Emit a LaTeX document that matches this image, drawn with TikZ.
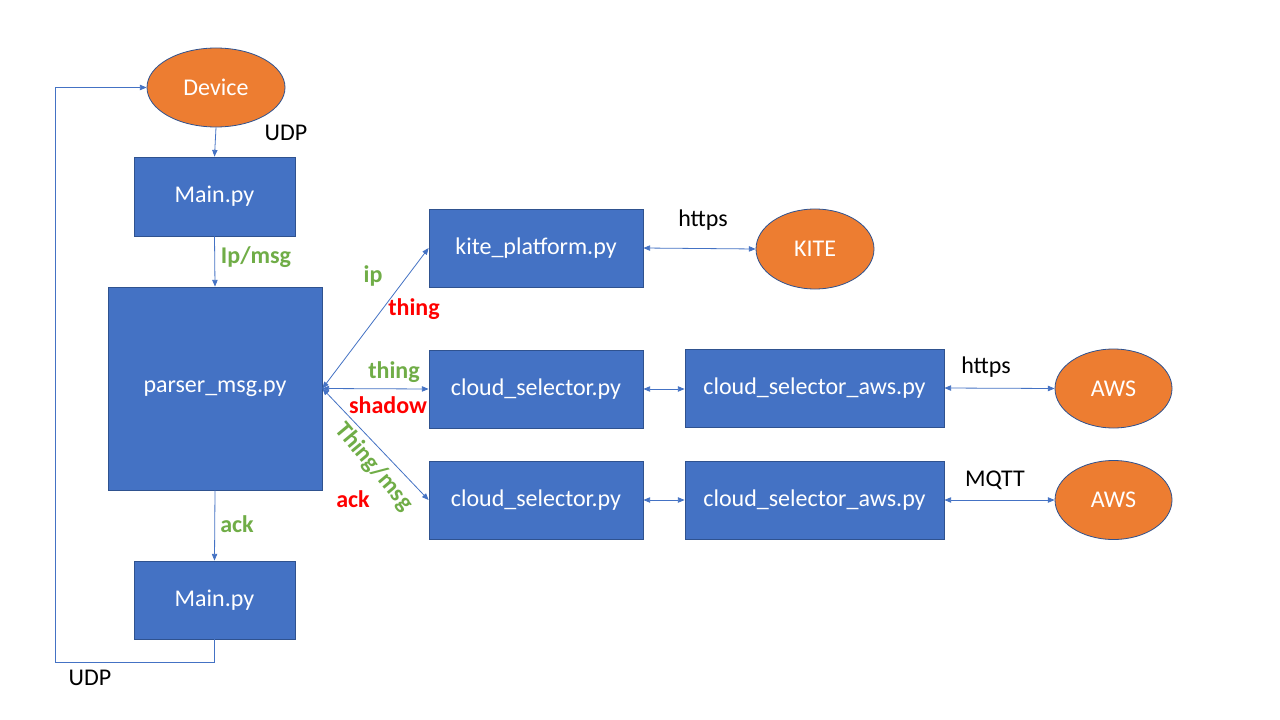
\documentclass[tikz,border=0pt]{standalone}
\usepackage{fontspec}
\setmainfont{Carlito}
\usetikzlibrary{shapes.geometric,arrows.meta}
\definecolor{boxblue}{HTML}{4472C4}
\definecolor{edgeblue}{HTML}{2F528F}
\definecolor{orng}{HTML}{ED7D31}
\definecolor{lgreen}{HTML}{70AD47}
\definecolor{lred}{HTML}{FF0000}
\begin{document}
\begin{tikzpicture}[x=0.75pt,y=-0.75pt,
  box/.style={draw=edgeblue,fill=boxblue,line width=0.6pt,rectangle,text=white,font=\fontsize{18}{21}\selectfont,inner sep=0pt},
  oval/.style={draw=edgeblue,fill=orng,line width=0.6pt,ellipse,text=white,font=\fontsize{18}{21}\selectfont,inner sep=0pt},
  conn/.style={draw=boxblue,line width=0.6pt},
  arr/.style={conn,-{Triangle[length=5pt,width=4pt]}},
  darr/.style={conn,{Triangle[length=5pt,width=4pt]}-{Triangle[length=5pt,width=4pt]}},
  plain/.style={font=\fontsize{18}{21}\selectfont,text=black,inner sep=0pt},
  glab/.style={font=\bfseries\fontsize{18}{21}\selectfont,text=lgreen,inner sep=0pt},
  rlab/.style={font=\bfseries\fontsize{18}{21}\selectfont,text=lred,inner sep=0pt}]
\useasboundingbox[fill=white] (0,0) rectangle (1280,720);

\node[oval,minimum width=138*0.75pt,minimum height=79*0.75pt] (dev) at (216,87.5) {Device};
\node[box,minimum width=161*0.75pt,minimum height=79*0.75pt] (main1) at (214.5,196.5) {Main.py};
\node[box,minimum width=214*0.75pt,minimum height=203*0.75pt] (parser) at (215,388.5) {parser\_msg.py};
\node[box,minimum width=161*0.75pt,minimum height=78*0.75pt] (main2) at (214.5,600) {Main.py};
\node[box,minimum width=214*0.75pt,minimum height=78*0.75pt] (kite) at (536,248) {kite\_platform.py};
\node[oval,minimum width=118*0.75pt,minimum height=80*0.75pt] (kiteo) at (815,249) {KITE};
\node[box,minimum width=214*0.75pt,minimum height=78*0.75pt] (cs1) at (536,389) {cloud\_selector.py};
\node[box,minimum width=259*0.75pt,minimum height=78*0.75pt] (csa1) at (814.5,388) {cloud\_selector\_aws.py};
\node[oval,minimum width=117*0.75pt,minimum height=79*0.75pt] (aws1) at (1113.5,388.5) {AWS};
\node[box,minimum width=214*0.75pt,minimum height=78*0.75pt] (cs2) at (536,500) {cloud\_selector.py};
\node[box,minimum width=259*0.75pt,minimum height=78*0.75pt] (csa2) at (814.5,500) {cloud\_selector\_aws.py};
\node[oval,minimum width=117*0.75pt,minimum height=79*0.75pt] (aws2) at (1113.5,500) {AWS};

\coordinate (lpb) at (55,662);

\draw[arr] (dev.south) -- (main1.north);
\draw[arr] (main1.south) -- (parser.north);
\draw[arr] (parser.south) -- (main2.north);
\draw[arr] (main2.south) |- (lpb) |- (dev.west);

\draw[darr] (parser.east) -- (kite.west);
\draw[darr] (parser.east) -- (cs1.west);
\draw[darr] (parser.east) -- (cs2.west);
\draw[darr] (kite.east) -- (kiteo.west);
\draw[darr] (cs1.east) -- (csa1.west |- cs1.east);
\draw[darr] (csa1.east) -- (aws1.west);
\draw[darr] (cs2.east) -- (csa2.west);
\draw[darr] (csa2.east) -- (aws2.west);

\node[plain] (udp1) at (286,133) {UDP};
\node[plain] (udp2) at (90,678) {UDP};
\node[glab] (ipmsg) at (256,257) {Ip/msg};
\node[glab] (ack1) at (237,524) {ack};
\node[glab] (ip) at (373,276) {ip};
\node[rlab] (thing1) at (414,309) {thing};
\node[glab] (thing2) at (394,372) {thing};
\node[rlab] (shadow) at (388,405) {shadow};
\node[glab,rotate=-50] (thingmsg) at (374,467) {Thing/msg};
\node[rlab] (ack2) at (353,499) {ack};
\node[plain] (https1) at (703,220) {https};
\node[plain] (https2) at (986,367) {https};
\node[plain] (mqtt) at (995,480) {MQTT};
\end{tikzpicture}
\end{document}
